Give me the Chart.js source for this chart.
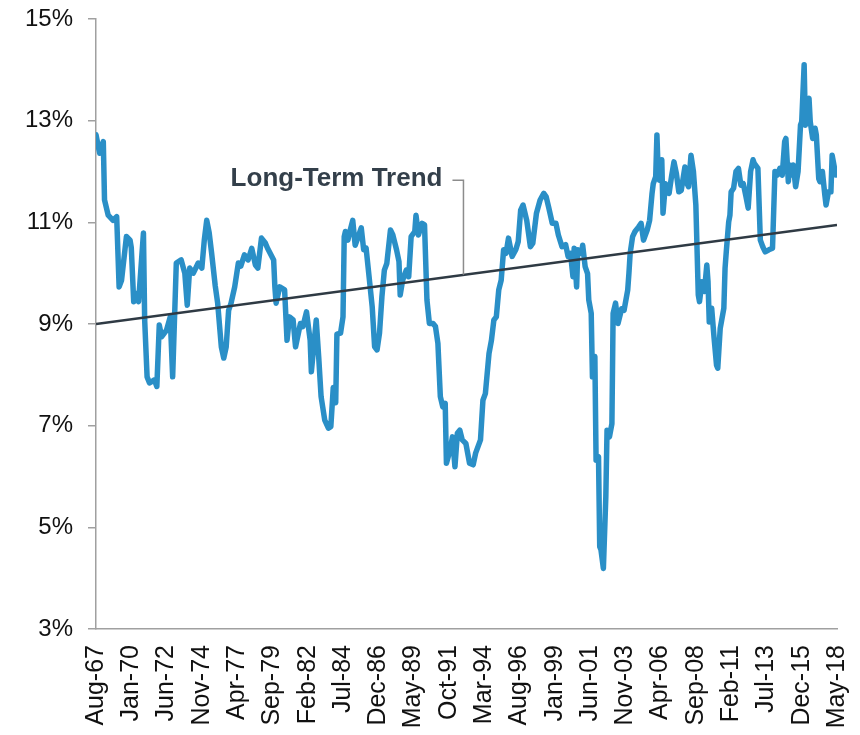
<!DOCTYPE html>
<html>
<head>
<meta charset="utf-8">
<script src="https://cdn.jsdelivr.net/npm/chart.js@4/dist/chart.umd.min.js"></script>
<style>
  html, body { margin: 0; padding: 0; background: #fff; }
  #wrap { width: 860px; height: 735px; position: relative; }
</style>
</head>
<body>
<div id="wrap"><canvas id="chart"></canvas></div>
<script>
// month offsets from Aug-67
const monthIdx = [
  0, 3, 6, 7, 10, 14, 17, 19, 21, 25,
  28, 29, 31, 33, 35, 39, 40, 42, 44, 48,
  50, 52, 54, 58, 61, 63, 66, 70, 73, 75,
  77, 80, 84, 87, 89, 91, 93, 95, 98, 100,
  103, 105, 107, 109, 111, 114, 117, 119, 122, 125,
  128, 131, 133, 136, 139, 141, 146, 147, 148, 151,
  155, 157, 159, 162, 164, 168, 170, 173, 176, 177,
  181, 183, 185, 188, 191, 193, 195, 197, 198, 201,
  203, 204, 205, 207, 209, 211, 213, 216, 218, 220,
  222, 225, 227, 229, 231, 233, 235, 237, 239, 242,
  244, 247, 249, 250, 252, 255, 257, 259, 262, 263,
  265, 268, 270, 272, 274, 277, 279, 281, 283, 285,
  287, 288, 291, 293, 295, 297, 299, 301, 304, 307,
  310, 312, 316, 318, 320, 323, 325, 327, 329, 331,
  333, 335, 337, 339, 342, 345, 347, 349, 351, 354,
  357, 359, 362, 365, 368, 370, 372, 375, 378, 380,
  383, 386, 388, 390, 392, 393, 395, 396, 399, 400,
  402, 404, 405, 407, 408, 410, 411, 413, 414, 415,
  417, 419, 420, 422, 424, 425, 427, 429, 432, 434,
  437, 438, 439, 441, 443, 446, 448, 450, 453, 455,
  457, 458, 460, 461, 462, 463, 465, 466, 468, 471,
  473, 475, 477, 479, 481, 484, 485, 487, 489, 491,
  493, 495, 496, 498, 500, 502, 503, 504, 506, 508,
  510, 511, 513, 516, 517, 518, 520, 521, 522, 524,
  526, 528, 530, 532, 534, 536, 538, 540, 541, 544,
  546, 548, 550, 553, 556, 558, 560, 562, 564, 566,
  567, 569, 570, 572, 573, 575, 577, 579, 580, 582,
  583, 585, 586, 587, 589, 591, 592, 594, 595, 597,
  599, 600, 602, 604, 605, 606, 608, 609
];

// rate in %
const rate = [
  12.72, 12.36, 12.59, 11.44, 11.14, 11.04, 11.11, 9.73, 9.86, 10.72,
  10.65, 10.5, 9.44, 9.6, 9.44, 10.79, 9.08, 7.96, 7.84, 7.9,
  7.77, 8.98, 8.75, 8.88, 9.14, 7.96, 10.2, 10.26, 10.0, 9.37,
  10.1, 10.0, 10.2, 10.1, 10.65, 11.04, 10.8, 10.4, 9.75, 9.41,
  8.55, 8.33, 8.55, 9.27, 9.41, 9.73, 10.2, 10.14, 10.36, 10.26,
  10.49, 10.16, 10.1, 10.69, 10.6, 10.49, 10.26, 9.73, 9.41, 9.73,
  9.67, 8.68, 9.14, 9.08, 8.55, 9.01, 8.95, 9.24, 8.68, 8.06,
  9.08, 8.36, 7.57, 7.11, 6.95, 6.98, 7.75, 7.45, 8.8, 8.82,
  9.14, 10.72, 10.82, 10.65, 10.85, 11.04, 10.55, 10.75, 10.89, 10.46,
  10.49, 9.8, 9.34, 8.55, 8.49, 8.82, 9.54, 10.06, 10.19, 10.85,
  10.75, 10.46, 10.23, 9.57, 9.86, 10.06, 9.93, 10.72, 10.82, 11.14,
  10.75, 10.98, 10.95, 9.47, 9.01, 9.01, 8.95, 8.62, 7.57, 7.37,
  7.44, 6.26, 6.52, 6.78, 6.19, 6.85, 6.91, 6.72, 6.65, 6.26,
  6.23, 6.46, 6.72, 7.5, 7.63, 8.42, 8.68, 9.08, 9.14, 9.67,
  9.86, 10.46, 10.39, 10.69, 10.33, 10.46, 10.62, 11.24, 11.34, 11.04,
  10.52, 10.59, 11.18, 11.44, 11.57, 11.5, 11.3, 10.98, 10.98, 10.75,
  10.52, 10.56, 10.33, 10.39, 9.93, 10.49, 9.73, 10.46, 10.39, 10.55,
  10.13, 9.99, 9.47, 9.21, 7.96, 8.36, 6.32, 6.39, 4.62, 4.56,
  4.19, 5.6, 6.91, 6.78, 7.04, 9.21, 9.41, 9.01, 9.3, 9.27,
  9.67, 10.0, 10.39, 10.72, 10.82, 10.91, 10.98, 10.65, 10.85, 11.04,
  11.57, 11.76, 11.9, 12.72, 12.03, 11.83, 12.23, 11.18, 11.76, 11.57,
  11.9, 12.19, 11.96, 11.6, 11.63, 12.09, 11.8, 11.7, 12.32, 12.0,
  11.34, 9.57, 9.44, 9.83, 9.64, 10.16, 9.83, 9.04, 9.31, 8.72,
  8.19, 8.13, 8.91, 9.31, 10.1, 10.42, 11.01, 11.14, 11.6, 11.67,
  12.0, 12.06, 11.73, 11.76, 11.53, 11.28, 12.0, 12.23, 12.16, 12.06,
  10.65, 10.52, 10.42, 10.46, 10.49, 12.0, 11.93, 12.06, 11.93, 12.59,
  12.65, 11.8, 12.13, 11.93, 12.13, 11.7, 12.0, 12.91, 12.98, 14.1,
  12.91, 13.37, 13.44, 12.98, 12.65, 12.85, 12.72, 11.86, 11.8, 12.0,
  11.54, 11.34, 11.6, 11.6, 12.32, 12.19, 11.93, 12.0
];

// long-term trend end points
const trendMonths = [0, 609];
const trendRate = [9.0, 10.95];

const tickLabels = [
  "Aug-67", "Jan-70", "Jun-72", "Nov-74", "Apr-77", "Sep-79", "Feb-82", "Jul-84",
  "Dec-86", "May-89", "Oct-91", "Mar-94", "Aug-96", "Jan-99", "Jun-01", "Nov-03",
  "Apr-06", "Sep-08", "Feb-11", "Jul-13", "Dec-15", "May-18"
];
const tickStep = 29; // months between labels

const yTicks = [3, 5, 7, 9, 11, 13, 15];

const blue = "#2a8fc7";
const slate = "#2f3a44";
const axisGrey = "#a0a0a0";
const font = "'Liberation Sans', Arial, sans-serif";

// "Long-Term Trend" callout with a bent leader line down to the trend
const trendLabel = {
  id: "trendLabel",
  afterDatasetsDraw(chart) {
    const { ctx, scales: { x, y } } = chart;
    const lx = x.getPixelForValue(302);
    const ly = y.getPixelForValue(11.83);
    const trendY = y.getPixelForValue(trendRate[0] + (trendRate[1] - trendRate[0]) * 302 / 609);
    ctx.save();
    ctx.strokeStyle = "#8c8c8c";
    ctx.lineWidth = 1.5;
    ctx.beginPath();
    ctx.moveTo(lx - 11, ly);
    ctx.lineTo(lx, ly);
    ctx.lineTo(lx, trendY);
    ctx.stroke();
    ctx.fillStyle = "#333f4a";
    ctx.font = "bold 26px " + font;
    ctx.textAlign = "right";
    ctx.textBaseline = "middle";
    ctx.fillText("Long-Term Trend", lx - 21, ly - 1);
    ctx.restore();
  }
};

new Chart(document.getElementById("chart"), {
  type: "line",
  data: {
    datasets: [
      {
        label: "Long-Term Trend",
        data: trendMonths.map((m, i) => ({ x: m, y: trendRate[i] })),
        borderColor: slate,
        borderWidth: 2.5,
        pointRadius: 0,
        order: 0
      },
      {
        label: "Rate",
        data: monthIdx.map((m, i) => ({ x: m, y: rate[i] })),
        borderColor: blue,
        borderWidth: 5.5,
        borderJoinStyle: "round",
        borderCapStyle: "round",
        pointRadius: 0,
        tension: 0,
        order: 1
      }
    ]
  },
  options: {
    responsive: true,
    maintainAspectRatio: false,
    animation: false,
    layout: { padding: { top: 19, right: 23, bottom: 0, left: 0 } },
    plugins: {
      legend: { display: false },
      tooltip: { enabled: false }
    },
    scales: {
      x: {
        type: "linear",
        min: 0,
        max: 609,
        grid: { display: false, drawTicks: false },
        border: { display: true, color: axisGrey, width: 1.5 },
        ticks: {
          stepSize: tickStep,
          autoSkip: false,
          minRotation: 90,
          maxRotation: 90,
          padding: 16,
          color: "#111",
          font: { family: font, size: 25 },
          callback: v => tickLabels[Math.round(v / tickStep)] ?? ""
        },
        afterFit: s => {
          s.height = 106;
          s.paddingLeft = 0;
          s.paddingRight = 0;
        }
      },
      y: {
        min: 3,
        max: 15,
        afterBuildTicks: s => { s.ticks = yTicks.map(v => ({ value: v })); },
        grid: { drawOnChartArea: false, drawTicks: true, tickLength: 8, color: axisGrey, lineWidth: 1.5 },
        border: { display: true, color: axisGrey, width: 1.5 },
        ticks: {
          padding: 15,
          color: "#111",
          font: { family: font, size: 24 },
          callback: v => v + "%"
        },
        afterFit: s => {
          s.width = 96;
          s.paddingTop = 0;
          s.paddingBottom = 0;
        }
      }
    }
  },
  plugins: [trendLabel]
});
</script>
</body>
</html>
